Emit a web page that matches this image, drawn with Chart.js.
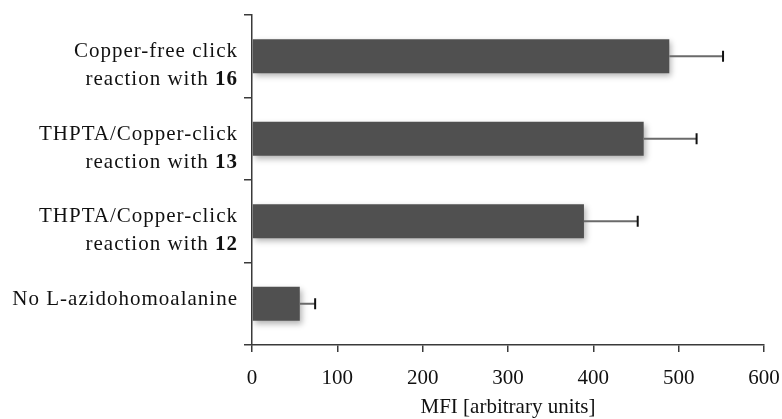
<!DOCTYPE html>
<html>
<head>
<meta charset="utf-8">
<script src="https://cdn.jsdelivr.net/npm/chart.js@4"></script>
<style>
  html, body { margin: 0; padding: 0; background: #fff; }
  #wrap { width: 782px; height: 419px; }
</style>
</head>
<body>
<div id="wrap"><canvas id="mfiChart" width="782" height="419"></canvas></div>
<script>
// label lines per category; second item of each line is drawn bold (may be "")
const categories = ["Copper-free 16", "THPTA 13", "THPTA 12", "No AHA"];
const labelLines = [
  [["Copper-free click", ""], ["reaction with ", "16"]],
  [["THPTA/Copper-click", ""], ["reaction with ", "13"]],
  [["THPTA/Copper-click", ""], ["reaction with ", "12"]],
  [["No L-azidohomoalanine", ""]],
];
const mfiValues = [489, 459, 389, 56];
const mfiErrors = [63, 62, 63, 18];
const xTicks = [0, 100, 200, 300, 400, 500, 600];

const serif = "'Liberation Serif', 'Times New Roman', serif";

// 막대 그림자
const barShadow = {
  id: "barShadow",
  beforeDatasetsDraw(chart) {
    const ctx = chart.ctx;
    ctx.save();
    ctx.shadowColor = "rgba(0,0,0,0.3)";
    ctx.shadowBlur = 6;
    ctx.shadowOffsetX = 2;
    ctx.shadowOffsetY = 3;
  },
  afterDatasetsDraw(chart) {
    chart.ctx.restore();
  },
};

// error bars, right side only
const errorBars = {
  id: "errorBars",
  afterDatasetsDraw(chart) {
    const ctx = chart.ctx;
    const xScale = chart.scales.x;
    const meta = chart.getDatasetMeta(0);
    ctx.save();
    meta.data.forEach((bar, i) => {
      const x0 = xScale.getPixelForValue(mfiValues[i]);
      const x1 = xScale.getPixelForValue(mfiValues[i] + mfiErrors[i]);
      const y = bar.y;
      ctx.strokeStyle = "#6a6a6a";
      ctx.lineWidth = 2;
      ctx.beginPath();
      ctx.moveTo(x0, y);
      ctx.lineTo(x1, y);
      ctx.stroke();
      ctx.strokeStyle = "#111";
      ctx.lineWidth = 2;
      ctx.beginPath();
      ctx.moveTo(x1, y - 5.5);
      ctx.lineTo(x1, y + 5.5);
      ctx.stroke();
    });
    ctx.restore();
  },
};

// category labels with bold compound numbers
const categoryLabels = {
  id: "categoryLabels",
  afterDraw(chart) {
    const ctx = chart.ctx;
    const yScale = chart.scales.y;
    const right = yScale.right - 14;
    ctx.save();
    ctx.fillStyle = "#111";
    ctx.textBaseline = "alphabetic";
    ctx.textAlign = "left";
    ctx.letterSpacing = "1px";
    labelLines.forEach((lines, i) => {
      const yc = yScale.getPixelForValue(i);
      lines.forEach((parts, j) => {
        const y = yc + 1 + j * 28;
        ctx.font = "21px " + serif;
        const w1 = ctx.measureText(parts[0]).width;
        ctx.font = "bold 21px " + serif;
        const w2 = parts[1] ? ctx.measureText(parts[1]).width : 0;
        let x = right - w1 - w2;
        ctx.font = "21px " + serif;
        ctx.fillText(parts[0], x, y);
        if (parts[1]) {
          ctx.font = "bold 21px " + serif;
          ctx.fillText(parts[1], x + w1, y);
        }
      });
    });
    ctx.restore();
  },
};

function makeGradient(context) {
  const chart = context.chart;
  const area = chart.chartArea;
  if (!area) return "#505050";
  const bar = context.element;
  if (!bar || bar.height == null) return "#505050";
  const g = chart.ctx.createLinearGradient(0, bar.y - bar.height / 2, 0, bar.y + bar.height / 2);
  g.addColorStop(0, "#616161");
  g.addColorStop(1, "#3e3e3e");
  return g;
}

new Chart(document.getElementById("mfiChart"), {
  type: "bar",
  data: {
    labels: categories,
    datasets: [
      {
        label: "MFI",
        data: mfiValues,
        backgroundColor: makeGradient,
        borderWidth: 0,
        categoryPercentage: 1,
        barPercentage: 0.41,
      },
    ],
  },
  options: {
    indexAxis: "y",
    responsive: false,
    animation: false,
    devicePixelRatio: 1,
    layout: { padding: { top: 15, right: 0, bottom: 0, left: 0 } },
    plugins: {
      legend: { display: false },
      tooltip: { enabled: false },
    },
    scales: {
      x: {
        min: 0,
        max: 600,
        afterBuildTicks(scale) {
          scale.ticks = xTicks.map((v) => ({ value: v }));
        },
        afterFit(scale) {
          scale.height = 74;
          scale.paddingLeft = 0;
          scale.paddingRight = 18;
        },
        border: { color: "#3a3a3a", width: 1.5 },
        grid: {
          drawOnChartArea: false,
          drawTicks: true,
          tickLength: 7,
          color: "#3a3a3a",
          lineWidth: 1.5,
        },
        ticks: {
          color: "#111",
          font: { family: serif, size: 21 },
          padding: 14,
          maxRotation: 0,
        },
        title: {
          display: true,
          text: "MFI [arbitrary units]",
          color: "#111",
          font: { family: serif, size: 21 },
          padding: { top: 0, bottom: -1 },
        },
      },
      y: {
        offset: true,
        afterFit(scale) {
          scale.width = 252;
        },
        border: { color: "#3a3a3a", width: 1.5 },
        grid: {
          offset: true,
          drawOnChartArea: false,
          drawTicks: true,
          tickLength: 8,
          color: "#3a3a3a",
          lineWidth: 1.5,
        },
        ticks: { display: false },
      },
    },
  },
  plugins: [barShadow, errorBars, categoryLabels],
});
</script>
</body>
</html>
